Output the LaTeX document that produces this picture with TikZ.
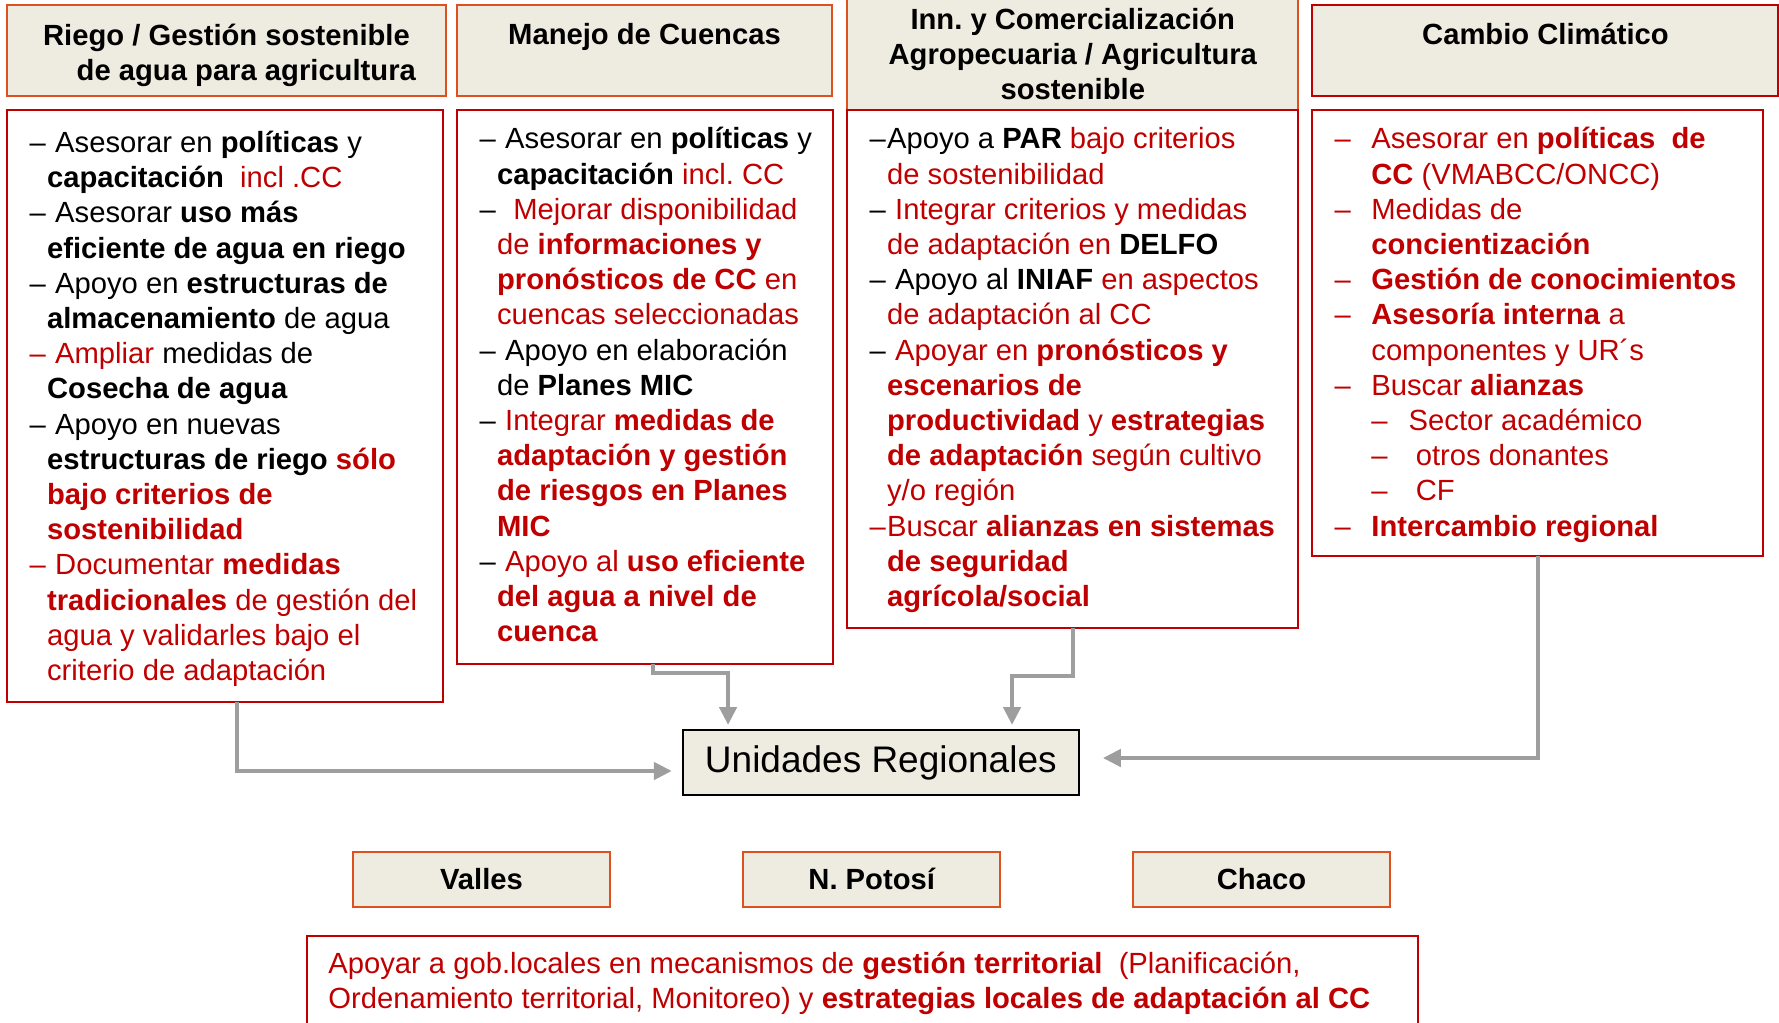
\documentclass[tikz,border=0pt]{standalone}
\usepackage{fontspec}
\setmainfont{Liberation Sans}
\usepackage{xcolor}
\usetikzlibrary{arrows.meta, calc, positioning}
\definecolor{rojo}{RGB}{192,0,0}
\definecolor{naranja}{RGB}{222,80,30}
\definecolor{beige}{RGB}{238,236,225}
\definecolor{gris}{RGB}{158,158,158}
\newcommand{\rd}[1]{\textcolor{rojo}{#1}}
\newcommand{\rb}[1]{\textcolor{rojo}{\textbf{#1}}}
\newcommand{\guion}[1][8.7pt]{\makebox[#1][l]{\textendash}}
\newcommand{\sangria}[1][8.7pt]{\hspace*{#1}}
\newcommand{\arranque}{\rule{0pt}{12pt}}
\frenchspacing

\begin{document}
\begin{tikzpicture}[x=0.5pt, y=-0.5pt,
    cabecera/.style={draw=naranja, fill=beige, line width=1pt, inner sep=0pt, outer sep=0pt},
    cuerpo/.style={draw=rojo, line width=1pt, inner sep=0pt, outer sep=0pt},
    texto/.style={anchor=north west, align=left, inner sep=0pt, font=\fontsize{14.6}{17.6}\selectfont\frenchspacing},
    titulo/.style={anchor=north, align=center, inner sep=0pt, font=\fontsize{14.6}{17.6}\selectfont\bfseries\frenchspacing},
    region/.style={cabecera, minimum width=128.7pt, minimum height=27.5pt, font=\fontsize{14.6}{17.6}\selectfont\bfseries\frenchspacing},
    conn/.style={draw=gris, line width=2.3pt, -{Triangle[length=9pt, width=8.5pt]}}]
    \useasboundingbox (0,0) rectangle (1779,1023);
    % Cabeceras
    \node[cabecera, minimum width=219.2pt, minimum height=45.3pt] (h1) at (226.5,50.7) {};
    \node[cabecera, minimum width=187.2pt, minimum height=45.3pt] (h2) at (644.5,50.7) {};
    \node[cabecera, minimum width=225.5pt, minimum height=65pt] (h3) at (1072.8,45) {};
    \node[cabecera, draw=rojo, minimum width=232.85pt, minimum height=45.3pt] (h4) at (1545.2,50.7) {};
    % Cuerpos
    \node[cuerpo, minimum width=218pt, minimum height=296pt] (b1) at (225.3,406) {};
    \node[cuerpo, minimum width=188pt, minimum height=276.75pt] (b2) at (645.3,386.75) {};
    \node[cuerpo, minimum width=225.5pt, minimum height=259pt] (b3) at (1072.8,369) {};
    \node[cuerpo, minimum width=225.5pt, minimum height=223pt] (b4) at (1537.8,333) {};
    % Titulos
    \node[titulo] (tt1) at (226.5,21.3) {\arranque Riego / Gestión sostenible\\
        \hspace*{19.8pt}de agua para agricultura};
    \node[titulo] (tt2) at (644.5,20.5) {\arranque Manejo de Cuencas};
    \node[titulo] (tt3) at (1072.8,5) {\arranque Inn. y Comercialización\\
        Agropecuaria / Agricultura\\
        sostenible};
    \node[titulo] (tt4) at (1545.5,20.5) {\arranque Cambio Climático};
    % Textos
    \node[texto] (t1) at (29.3,128) {\arranque\guion\ Asesorar en \textbf{políticas} y\\
        \sangria\textbf{capacitación}\ \ \rd{incl .CC}\\
        \guion\ Asesorar \textbf{uso más}\\
        \sangria\textbf{eficiente de agua en riego}\\
        \guion\ Apoyo en \textbf{estructuras de}\\
        \sangria\textbf{almacenamiento} de agua\\
        \rd{\guion\ Ampliar} medidas de\\
        \sangria\textbf{Cosecha de agua}\\
        \guion\ Apoyo en nuevas\\
        \sangria\textbf{estructuras de riego} \rb{sólo}\\
        \sangria\rb{bajo criterios de}\\
        \sangria\rb{sostenibilidad}\\
        \rd{\guion\ Documentar \textbf{medidas}}\\
        \sangria\rb{tradicionales} \rd{de gestión del}\\
        \sangria\rd{agua y validarles bajo el}\\
        \sangria\rd{criterio de adaptación}};
    \node[texto] (t2) at (479.3,124.5) {\arranque\guion\ Asesorar en \textbf{políticas} y\\
        \sangria\textbf{capacitación} \rd{incl. CC}\\
        \guion\ \ \rd{Mejorar disponibilidad}\\
        \sangria\rd{de \textbf{informaciones y}}\\
        \sangria\rb{pronósticos de CC} \rd{en}\\
        \sangria\rd{cuencas seleccionadas}\\
        \guion\ Apoyo en elaboración\\
        \sangria de \textbf{Planes MIC}\\
        \guion\ \rd{Integrar \textbf{medidas de}}\\
        \sangria\rb{adaptación y gestión}\\
        \sangria\rb{de riesgos en Planes}\\
        \sangria\rb{MIC}\\
        \guion\ \rd{Apoyo al \textbf{uso eficiente}}\\
        \sangria\rb{del agua a nivel de}\\
        \sangria\rb{cuenca}};
    \node[texto] (t3) at (869.3,124.5) {\arranque\guion Apoyo a \textbf{PAR} \rd{bajo criterios}\\
        \sangria\rd{de sostenibilidad}\\
        \guion\ \rd{Integrar criterios y medidas}\\
        \sangria\rd{de adaptación en} \textbf{DELFO}\\
        \guion\ Apoyo al \textbf{INIAF} \rd{en aspectos}\\
        \sangria\rd{de adaptación al CC}\\
        \guion\ \rd{Apoyar en \textbf{pronósticos y}}\\
        \sangria\rb{escenarios de}\\
        \sangria\rb{productividad} \rd{y} \rb{estrategias}\\
        \sangria\rb{de adaptación} \rd{según cultivo}\\
        \sangria\rd{y/o región}\\
        \rd{\guion Buscar \textbf{alianzas en sistemas}}\\
        \sangria\rb{de seguridad}\\
        \sangria\rb{agrícola/social}};
    \node[texto, text=rojo] (t4) at (1334.3,124.5) {\arranque\guion[18.35pt]Asesorar en \textbf{políticas\ \ de}\\
        \sangria[18.35pt]\textbf{CC} (VMABCC/ONCC)\\
        \guion[18.35pt]Medidas de\\
        \sangria[18.35pt]\textbf{concientización}\\
        \guion[18.35pt]\textbf{Gestión de conocimientos}\\
        \guion[18.35pt]\textbf{Asesoría interna} a\\
        \sangria[18.35pt]componentes y UR´s\\
        \guion[18.35pt]Buscar \textbf{alianzas}\\
        \sangria[18.35pt]\guion[18.65pt]Sector académico\\
        \sangria[18.35pt]\guion[22.2pt]otros donantes\\
        \sangria[18.35pt]\guion[22.2pt]CF\\
        \guion[18.35pt]\textbf{Intercambio regional}};
    % Unidades regionales
    \node[draw=black, fill=beige, line width=1pt, inner sep=0pt, outer sep=0pt,
        minimum width=198pt, minimum height=32.5pt, font=\fontsize{18.5}{22}\selectfont] (ur) at (880.85,762.5) {Unidades Regionales};
    \node[region] (valles) at (481.5,879.2) {Valles};
    \node[region] (potosi) at (871.7,879.2) {N. Potosí};
    \node[region] (chaco) at (1261.5,879.2) {Chaco};
    \node[cuerpo, minimum width=555.5pt, minimum height=62.15pt] (gob) at (862.85,997.85) {};
    \node[texto, text=rojo] (tgob) at (328,949) {\arranque Apoyar a gob.locales en mecanismos de \textbf{gestión territorial}\ \ (Planificación,\\
        Ordenamiento territorial, Monitoreo) y \textbf{estrategias locales de adaptación al CC}};
    % Flechas
    \draw[conn, shorten >=5.5pt] ([xshift=5.85pt]b1.south) |- ([yshift=-4.25pt]ur.west);
    \draw[conn, shorten >=2.5pt] ([xshift=3.85pt]b2.south) -- ++(0,-4.75pt) -| ([xshift=-76.4pt]ur.north);
    \draw[conn, shorten >=2.5pt] (b3.south) -- ++(0,-24pt) -| ([xshift=65.6pt]ur.north);
    \draw[conn, shorten >=12pt] (b4.south) |- ([yshift=2.25pt]ur.east);
\end{tikzpicture}
\end{document}
